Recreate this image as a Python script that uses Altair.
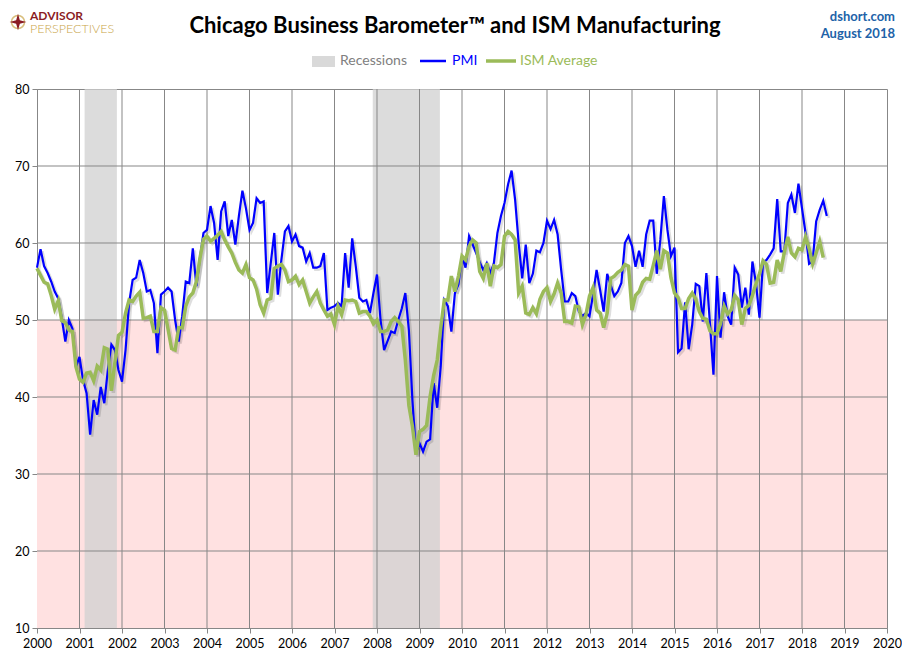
import altair as alt
import pandas as pd

START_YEAR = 2000

# Chicago Business Barometer, monthly from Jan 2000 to Aug 2018
pmi = [
    56.8, 59.2, 57.0, 56.1, 55.0, 53.7, 52.8, 50.2, 47.2, 50.0, 48.9, 43.9,  # 2000
    45.2, 42.2, 40.5, 35.1, 39.6, 37.7, 41.3, 39.2, 43.5, 46.8, 46.1, 43.5,  # 2001
    42.0, 46.1, 52.2, 55.2, 55.5, 57.8, 56.1, 53.7, 53.9, 52.2, 45.7, 53.3,  # 2002
    53.7, 54.2, 53.7, 50.0, 47.2, 50.5, 55.0, 54.8, 59.3, 54.4, 58.0, 61.3,  # 2003
    61.7, 64.8, 62.6, 57.8, 64.1, 65.4, 60.9, 63.0, 59.8, 63.5, 66.8, 64.5,  # 2004
    61.7, 62.6, 65.8, 65.2, 65.4, 53.5, 57.4, 61.3, 53.3, 57.8, 61.5, 62.2,  # 2005
    60.2, 61.1, 59.6, 59.4, 57.6, 58.7, 56.8, 56.8, 57.0, 58.7, 51.3, 51.6,  # 2006
    51.8, 52.2, 51.8, 58.7, 54.2, 60.6, 57.0, 52.9, 52.4, 52.6, 50.9, 53.5,  # 2007
    55.9, 50.0, 46.1, 47.3, 48.5, 48.3, 50.0, 51.5, 53.5, 48.7, 39.6, 32.7,  # 2008
    34.0, 32.9, 34.2, 34.5, 41.8, 38.6, 44.0, 52.6, 51.8, 48.5, 53.5, 54.6,  # 2009
    58.3, 56.8, 60.9, 59.8, 58.7, 57.5, 56.5, 57.4, 56.1, 57.4, 61.3, 63.5,  # 2010
    65.2, 67.6, 69.4, 65.6, 60.0, 55.4, 59.8, 54.8, 56.0, 59.0, 58.8, 60.0,  # 2011
    62.9, 61.8, 63.0, 61.1, 56.5, 52.4, 52.4, 53.5, 53.1, 51.1, 50.5, 50.9,  # 2012
    50.5, 53.3, 56.5, 53.9, 51.1, 56.0, 54.5, 53.1, 53.7, 54.8, 60.0, 60.9,  # 2013
    59.6, 56.9, 59.0, 56.9, 61.1, 62.9, 62.9, 56.0, 60.4, 66.1, 61.7, 58.3,  # 2014
    59.4, 45.8, 46.3, 52.3, 46.2, 49.4, 54.7, 54.4, 49.8, 56.1, 49.6, 42.9,  # 2015
    55.7, 47.7, 53.6, 50.5, 49.4, 56.8, 55.9, 51.6, 54.2, 50.7, 57.6, 54.8,  # 2016
    50.3, 57.5, 57.8, 58.5, 59.3, 65.7, 58.9, 58.9, 65.2, 66.3, 63.9, 67.7,  # 2017
    64.5, 61.3, 57.3, 57.6, 62.8, 64.3, 65.5, 63.5,                          # 2018
]

# ISM Manufacturing, monthly from Jan 2000 to Jul 2018
ism = [
    56.7, 55.8, 54.9, 54.7, 53.2, 51.4, 52.5, 49.9, 49.7, 48.7, 48.5, 43.9,  # 2000
    42.3, 41.9, 43.1, 43.2, 42.1, 44.0, 43.5, 46.4, 46.2, 40.8, 44.5, 48.0,  # 2001
    48.4, 50.9, 52.6, 52.4, 53.1, 53.6, 50.2, 50.3, 50.5, 48.5, 48.5, 51.6,  # 2002
    51.3, 48.8, 46.3, 46.1, 49.0, 49.0, 51.8, 53.0, 53.5, 55.0, 58.0, 60.5,  # 2003
    60.9, 60.2, 60.6, 61.0, 61.5, 60.4, 59.5, 58.7, 57.5, 56.5, 56.1, 57.2,  # 2004
    55.5, 55.2, 54.0, 52.0, 50.9, 52.6, 52.8, 56.7, 57.0, 57.2, 56.5, 55.0,  # 2005
    55.2, 55.7, 54.6, 55.2, 53.7, 52.2, 53.0, 53.7, 52.2, 51.3, 50.5, 50.8,  # 2006
    49.4, 51.8, 50.7, 52.6, 52.5, 52.6, 52.4, 50.9, 51.1, 51.1, 50.5, 49.5,  # 2007
    50.0, 48.5, 48.5, 48.7, 49.8, 50.3, 49.8, 49.2, 44.8, 38.9, 36.2, 32.5,  # 2008
    35.5, 35.8, 36.3, 40.1, 42.8, 44.8, 49.0, 52.6, 52.6, 55.7, 53.7, 55.7,  # 2009
    58.3, 57.8, 59.6, 60.4, 60.0, 56.3, 55.4, 57.4, 54.4, 57.0, 56.8, 57.2,  # 2010
    60.9, 61.5, 61.1, 60.4, 53.5, 54.4, 50.9, 50.7, 51.6, 50.8, 52.7, 53.7,  # 2011
    54.2, 52.4, 53.4, 54.8, 53.5, 49.8, 49.8, 49.6, 51.8, 51.7, 49.4, 50.7,  # 2012
    53.1, 54.2, 51.3, 50.9, 49.0, 50.9, 55.4, 55.7, 56.2, 56.5, 57.2, 57.0,  # 2013
    51.3, 53.2, 53.7, 54.9, 55.4, 55.3, 57.1, 59.0, 56.6, 59.0, 58.7, 55.5,  # 2014
    53.5, 52.9, 51.5, 51.5, 52.8, 53.5, 52.7, 51.1, 50.2, 50.1, 48.6, 48.2,  # 2015
    48.2, 49.5, 51.8, 50.8, 51.3, 53.2, 52.6, 49.4, 51.5, 51.9, 53.2, 54.7,  # 2016
    56.0, 57.7, 57.2, 54.8, 54.9, 57.8, 56.3, 58.8, 60.8, 58.7, 58.2, 59.3,  # 2017
    59.1, 60.8, 59.3, 57.3, 58.7, 60.2, 58.1,                                # 2018
]

recession_start = [2001.12, 2007.9]
recession_end = [2001.88, 2009.48]

year_ticks = list(range(2000, 2021))
value_ticks = list(range(10, 81, 10))
y_low, y_high = 10, 80
expansion_level = 50

GRID = "#878787"
BLUE = "#0000FF"
GREEN = "#9BBB59"
FONT = "Lato"


def monthly(values):
    return pd.DataFrame({
        "year": [START_YEAR + i / 12 for i in range(len(values))],
        "value": values,
    })


x_scale = alt.Scale(domain=[year_ticks[0], year_ticks[-1]], nice=False, zero=False)
y_scale = alt.Scale(domain=[y_low, y_high], nice=False, zero=False)
x_axis = alt.Axis(values=year_ticks, format="d", grid=False, title=None,
                  tickSize=5, tickColor=GRID, domainColor=GRID,
                  labelFont=FONT, labelFontSize=12.5, labelColor="black",
                  labelPadding=4, labelFlush=False)
y_axis = alt.Axis(values=value_ticks, grid=False, title=None,
                  tickSize=5, tickColor=GRID, domainColor=GRID,
                  labelFont=FONT, labelFontSize=12.5, labelColor="black",
                  labelPadding=3)


def X(field, **kw):
    return alt.X(field, type="quantitative", scale=x_scale, axis=x_axis, **kw)


def Y(field, **kw):
    return alt.Y(field, type="quantitative", scale=y_scale, axis=y_axis, **kw)


band = alt.Chart(pd.DataFrame({"x0": [year_ticks[0]], "x1": [year_ticks[-1]],
                               "y0": [y_low], "y1": [expansion_level]})).mark_rect(
    color="#FFE1E1").encode(x=X("x0"), x2="x1", y=Y("y0"), y2="y1")

recessions = alt.Chart(pd.DataFrame({"start": recession_start, "end": recession_end,
                                     "y0": [y_low] * 2, "y1": [y_high] * 2})).mark_rect(
    color="#D0D0D0", opacity=0.75).encode(x=X("start"), x2="end", y=Y("y0"), y2="y1")

vgrid = alt.Chart(pd.DataFrame({"year": year_ticks[1:-1]})).mark_rule(
    color=GRID, strokeWidth=1).encode(x=X("year"))
hgrid = alt.Chart(pd.DataFrame({"value": value_ticks[1:-1]})).mark_rule(
    color=GRID, strokeWidth=1).encode(y=Y("value"))

pmi_df = monthly(pmi)
ism_df = monthly(ism)

pmi_shadow = alt.Chart(pmi_df).mark_line(
    color="black", opacity=0.13, strokeWidth=2.5, xOffset=2, yOffset=2).encode(
    x=X("year"), y=Y("value"))
ism_shadow = alt.Chart(ism_df).mark_line(
    color="black", opacity=0.13, strokeWidth=3.5, xOffset=2, yOffset=2).encode(
    x=X("year"), y=Y("value"))
pmi_line = alt.Chart(pmi_df).mark_line(color=BLUE, strokeWidth=2.2).encode(
    x=X("year"), y=Y("value"))
ism_line = alt.Chart(ism_df).mark_line(color=GREEN, strokeWidth=3.5).encode(
    x=X("year"), y=Y("value"))


def label(text, x, y, **style):
    return alt.Chart(pd.DataFrame({"t": [text]})).mark_text(
        font=FONT, baseline="middle", **style).encode(
        x=alt.value(x), y=alt.value(y), text="t:N")


def one_row():
    return alt.Chart(pd.DataFrame({"k": [0]}))


title = label("Chicago Business Barometer\u2122 and ISM Manufacturing", 418, -63,
              fontSize=22, fontWeight="bold", color="black", align="center")
site = label("dshort.com", 858, -72, fontSize=13, fontWeight="bold",
             color="#2162A8", align="right")
edition = label("August 2018", 858, -55, fontSize=13, fontWeight="bold",
                color="#2162A8", align="right")

logo_ring = one_row().mark_point(
    shape="circle", size=170, color="#C9A447", strokeWidth=1.5).encode(
    x=alt.value(-19), y=alt.value(-67))
logo_star = one_row().mark_point(
    shape="M0,-1L0.22,-0.22L1,0L0.22,0.22L0,1L-0.22,0.22L-1,0L-0.22,-0.22Z",
    size=280, filled=True, color="#8B1C24", opacity=1).encode(
    x=alt.value(-19), y=alt.value(-67))
logo_top = label("ADVISOR", -7, -73.5, fontSize=12, fontWeight="bold",
                 color="#8B1C24", align="left")
logo_bottom = label("PERSPECTIVES", -7, -60, fontSize=12.5, fontWeight=300,
                    color="#C9A447", align="left")

leg_rec = one_row().mark_rect(color="#D9D9D9").encode(
    x=alt.value(275), x2=alt.value(298), y=alt.value(-33), y2=alt.value(-22))
leg_rec_text = label("Recessions", 303, -28, fontSize=14, color="#808080", align="left")
leg_pmi = one_row().mark_rule(color=BLUE, strokeWidth=2.5).encode(
    x=alt.value(383), x2=alt.value(409), y=alt.value(-28))
leg_pmi_text = label("PMI", 415, -28, fontSize=14, color=BLUE, align="left")
leg_ism = one_row().mark_rule(color=GREEN, strokeWidth=3.5).encode(
    x=alt.value(449), x2=alt.value(479), y=alt.value(-28))
leg_ism_text = label("ISM Average", 483, -28, fontSize=14, color=GREEN, align="left")

chart = alt.layer(
    band, recessions, vgrid, hgrid,
    pmi_shadow, ism_shadow, pmi_line, ism_line,
    title, site, edition, logo_ring, logo_star, logo_top, logo_bottom,
    leg_rec, leg_rec_text, leg_pmi, leg_pmi_text, leg_ism, leg_ism_text,
).properties(
    width=850, height=539,
    autosize=alt.AutoSizeParams(type="none"),
    padding={"left": 29, "top": 81, "right": 15, "bottom": 24},
    background="white",
).configure_view(stroke=GRID, strokeWidth=1)

chart.save("out.html", embed_options={"renderer": "svg", "actions": False})
